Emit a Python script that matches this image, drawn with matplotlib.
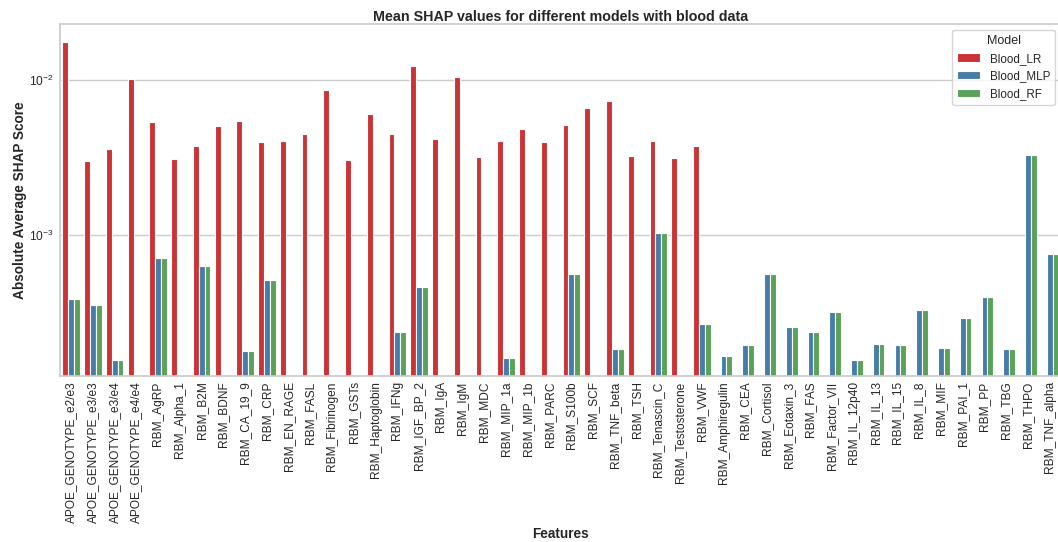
import numpy as np
import seaborn as sns
from matplotlib import pyplot as plt

# Features on the x axis
features = [
    "APOE_GENOTYPE_e2/e3", "APOE_GENOTYPE_e3/e3", "APOE_GENOTYPE_e3/e4", "APOE_GENOTYPE_e4/e4",
    "RBM_AgRP", "RBM_Alpha_1", "RBM_B2M", "RBM_BDNF", "RBM_CA_19_9", "RBM_CRP", "RBM_EN_RAGE",
    "RBM_FASL", "RBM_Fibrinogen", "RBM_GSTs", "RBM_Haptoglobin", "RBM_IFNg", "RBM_IGF_BP_2",
    "RBM_IgA", "RBM_IgM", "RBM_MDC", "RBM_MIP_1a", "RBM_MIP_1b", "RBM_PARC", "RBM_S100b",
    "RBM_SCF", "RBM_TNF_beta", "RBM_TSH", "RBM_Tenascin_C", "RBM_Testosterone", "RBM_VWF",
    "RBM_Amphiregulin", "RBM_CEA", "RBM_Cortisol", "RBM_Eotaxin_3", "RBM_FAS", "RBM_Factor_VII",
    "RBM_IL_12p40", "RBM_IL_13", "RBM_IL_15", "RBM_IL_8", "RBM_MIF", "RBM_PAI_1", "RBM_PP",
    "RBM_TBG", "RBM_THPO", "RBM_TNF_alpha",
]

nan = np.nan
blood_lr = [
    0.0177, 0.00301, 0.00359, 0.0102, 0.00536, 0.00309, 0.00375, 0.00509, 0.00548, 0.00402,
    0.00406, 0.00453, 0.00861, 0.00305, 0.0061, 0.00453, 0.0123, 0.0042, 0.0105, 0.00321,
    0.00406, 0.00483, 0.00402, 0.00513, 0.00665, 0.00733, 0.00325, 0.00406, 0.00314, 0.00377,
    nan, nan, nan, nan, nan, nan, nan, nan, nan, nan, nan, nan, nan, nan, nan, nan,
]
blood_mlp = [
    3.86e-4, 3.55e-4, 1.57e-4, nan, 7.11e-4, nan, 6.31e-4, nan, 1.80e-4, 5.13e-4,
    nan, nan, nan, nan, nan, 2.38e-4, 4.64e-4, nan, nan, nan,
    1.61e-4, nan, nan, 5.60e-4, nan, 1.85e-4, nan, 1.04e-3, nan, 2.68e-4,
    1.66e-4, 1.95e-4, 5.65e-4, 2.56e-4, 2.38e-4, 3.19e-4, 1.56e-4, 1.99e-4, 1.95e-4, 3.28e-4,
    1.88e-4, 2.92e-4, 3.98e-4, 1.85e-4, 3.30e-3, 7.61e-4,
]
blood_rf = [
    3.86e-4, 3.55e-4, 1.57e-4, nan, 7.11e-4, nan, 6.31e-4, nan, 1.80e-4, 5.13e-4,
    nan, nan, nan, nan, nan, 2.38e-4, 4.64e-4, nan, nan, nan,
    1.61e-4, nan, nan, 5.60e-4, nan, 1.85e-4, nan, 1.04e-3, nan, 2.68e-4,
    1.66e-4, 1.95e-4, 5.65e-4, 2.56e-4, 2.38e-4, 3.19e-4, 1.56e-4, 1.99e-4, 1.95e-4, 3.28e-4,
    1.88e-4, 2.92e-4, 3.98e-4, 1.85e-4, 3.30e-3, 7.61e-4,
]
models = ["Blood_LR", "Blood_MLP", "Blood_RF"]

sns.set_theme(style="whitegrid")
plt.rcParams['font.family'] = ['Liberation Sans', 'DejaVu Sans']
plt.rcParams['mathtext.fontset'] = 'custom'
plt.rcParams['mathtext.rm'] = 'Liberation Sans'

palette = [sns.desaturate(c, 0.75) for c in sns.color_palette("Set1", 3)]

fig = plt.figure(figsize=(10.58, 5.42), dpi=100)
ax = fig.add_axes([0.057, 0.3063, 0.9455, 0.6489])

x = np.arange(len(features))
width = 0.8 / 3
for i, (name, vals) in enumerate(zip(models, [blood_lr, blood_mlp, blood_rf])):
    ax.bar(x + (i - 1) * width, np.array(vals, dtype=float), width=width,
           color=palette[i], edgecolor="white", linewidth=0.8, label=name)

ax.set_yscale("log")
ax.set_ylim(10 ** -3.908, 10 ** -1.639)
ax.set_xlim(-0.5, len(features) - 0.5)
ax.set_xticks(x)
ax.set_xticklabels(features, rotation=90, fontsize=8.6)
ax.tick_params(axis="x", length=0, pad=3.8)
ax.tick_params(axis="y", labelsize=8.6, which="major", length=0, pad=4.8)
ax.tick_params(axis="y", which="minor", left=False, length=0)
ax.grid(False, axis="x")
ax.grid(True, axis="y", which="major")
ax.grid(False, axis="y", which="minor")

ax.set_title("Mean SHAP values for different models with blood data",
             fontsize=10.3, fontweight="bold", pad=2.6)
ax.set_xlabel("Features", fontsize=9.8, fontweight="bold", labelpad=3)
ax.set_ylabel("Absolute Average SHAP Score", fontsize=9.8, fontweight="bold", labelpad=1.5)
ax.legend(title="Model", fontsize=8.4, title_fontsize=9, loc="upper right",
          labelspacing=0.5)

fig.savefig("out.png", dpi=100)
